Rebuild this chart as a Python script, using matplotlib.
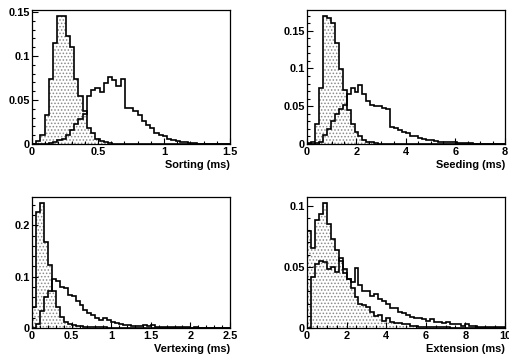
import numpy as np
import matplotlib
matplotlib.use("Agg")
import matplotlib.pyplot as plt
from matplotlib.ticker import MultipleLocator, FuncFormatter

plt.rcParams["font.family"] = ["Liberation Sans", "DejaVu Sans"]
plt.rcParams["hatch.linewidth"] = 0.7

# ---------------- data (normalised histograms, 50 bins each) ----------------
# histogram binning ranges and displayed axis ranges
sorting_bins = (0.0, 1.6)
sorting_axis = (0.0, 1.5)
sorting_shaded = [
    0.000, 0.003, 0.010, 0.033, 0.074, 0.115, 0.145, 0.145, 0.123, 0.110,
    0.074, 0.054, 0.038, 0.018, 0.012, 0.006, 0.003, 0.002, 0.001, 0.0005,
    0, 0, 0, 0, 0, 0, 0, 0, 0, 0,
    0, 0, 0, 0, 0, 0, 0, 0, 0, 0,
    0, 0, 0, 0, 0, 0, 0, 0, 0, 0,
]
sorting_open = [
    0.000, 0.000, 0.000, 0.000, 0.001, 0.002, 0.004, 0.006, 0.010, 0.016,
    0.023, 0.028, 0.034, 0.055, 0.061, 0.064, 0.059, 0.069, 0.076, 0.073,
    0.066, 0.074, 0.041, 0.041, 0.038, 0.033, 0.026, 0.022, 0.018, 0.013,
    0.010, 0.009, 0.006, 0.004, 0.003, 0.002, 0.002, 0.001, 0.001, 0.0005,
    0.0005, 0.0005, 0.0005, 0.0003, 0, 0, 0, 0, 0, 0,
]

seeding_bins = (0.0, 8.0)
seeding_axis = (0.0, 8.0)
seeding_shaded = [
    0.001, 0.003, 0.027, 0.074, 0.169, 0.167, 0.160, 0.134, 0.099, 0.072,
    0.045, 0.027, 0.016, 0.010, 0.005, 0.003, 0.002, 0.001, 0.0005, 0,
    0, 0, 0, 0, 0, 0, 0, 0, 0, 0,
    0, 0, 0, 0, 0, 0, 0, 0, 0, 0,
    0, 0, 0, 0, 0, 0, 0, 0, 0, 0,
]
seeding_open = [
    0.000, 0.000, 0.001, 0.003, 0.012, 0.020, 0.030, 0.040, 0.046, 0.052,
    0.066, 0.074, 0.069, 0.078, 0.066, 0.057, 0.052, 0.050, 0.050, 0.048,
    0.047, 0.022, 0.021, 0.019, 0.016, 0.014, 0.011, 0.010, 0.008, 0.007,
    0.005, 0.005, 0.004, 0.003, 0.003, 0.002, 0.002, 0.002, 0.001, 0.001,
    0.001, 0.001, 0.0005, 0.0005, 0.0003, 0, 0, 0, 0, 0,
]

vertexing_bins = (0.0, 2.5)
vertexing_axis = (0.0, 2.5)
vertexing_shaded = [
    0.040, 0.225, 0.243, 0.168, 0.123, 0.072, 0.040, 0.022, 0.012, 0.008,
    0.005, 0.004, 0.003, 0.002, 0.002, 0.001, 0.001, 0.001, 0.001, 0.0005,
    0.0005, 0, 0, 0, 0, 0, 0, 0, 0, 0,
    0, 0, 0, 0, 0, 0, 0, 0, 0, 0,
    0, 0, 0, 0, 0, 0, 0, 0, 0, 0,
]
vertexing_open = [
    0.000, 0.008, 0.033, 0.060, 0.072, 0.095, 0.092, 0.080, 0.078, 0.064,
    0.062, 0.052, 0.044, 0.036, 0.030, 0.025, 0.019, 0.016, 0.020, 0.016,
    0.012, 0.010, 0.008, 0.006, 0.005, 0.004, 0.004, 0.003, 0.005, 0.003,
    0.005, 0.002, 0.002, 0.001, 0.001, 0.001, 0.002, 0.001, 0.001, 0.001,
    0.0005, 0.001, 0.0005, 0.0005, 0.0005, 0.0005, 0.0003, 0.0003, 0.0003, 0.0003,
]

extension_bins = (0.0, 10.0)
extension_axis = (0.0, 10.0)
extension_shaded = [
    0.079, 0.065, 0.088, 0.093, 0.102, 0.085, 0.073, 0.064, 0.055, 0.048,
    0.040, 0.033, 0.025, 0.020, 0.019, 0.017, 0.013, 0.010, 0.011, 0.006,
    0.008, 0.005, 0.004, 0.004, 0.003, 0.003, 0.002, 0.002, 0.001, 0.001,
    0.001, 0.001, 0.0005, 0.0005, 0.0005, 0.0005, 0, 0, 0, 0,
    0, 0, 0, 0, 0, 0, 0, 0, 0, 0,
]
extension_open = [
    0.000, 0.042, 0.052, 0.055, 0.054, 0.048, 0.050, 0.046, 0.057, 0.045,
    0.040, 0.038, 0.049, 0.035, 0.030, 0.030, 0.026, 0.028, 0.024, 0.022,
    0.020, 0.016, 0.016, 0.013, 0.012, 0.011, 0.009, 0.008, 0.008, 0.007,
    0.006, 0.007, 0.005, 0.005, 0.004, 0.005, 0.003, 0.003, 0.003, 0.002,
    0.003, 0.002, 0.002, 0.001, 0.001, 0.001, 0.0005, 0.0005, 0.0005, 0.0005,
]

xlabels = ["Sorting (ms)", "Seeding (ms)", "Vertexing (ms)", "Extension (ms)"]
# (major, minor) ticks for x and y
x_ticks = [(0.5, 0.1), (2, 0.5), (0.5, 0.1), (2, 0.5)]
y_ticks = [(0.05, 0.01), (0.05, 0.01), (0.1, 0.02), (0.05, 0.01)]

panels = [
    (sorting_bins, sorting_axis, sorting_shaded, sorting_open),
    (seeding_bins, seeding_axis, seeding_shaded, seeding_open),
    (vertexing_bins, vertexing_axis, vertexing_shaded, vertexing_open),
    (extension_bins, extension_axis, extension_shaded, extension_open),
]

# axes rectangles in figure fractions
W, H = 510, 361
rects = [
    (32 / W, 1 - 144 / H, 198 / W, 134 / H),
    (307 / W, 1 - 144 / H, 198 / W, 134 / H),
    (32 / W, 1 - 328 / H, 198 / W, 131 / H),
    (307 / W, 1 - 328 / H, 198 / W, 131 / H),
]

fig = plt.figure(figsize=(5.10, 3.61), dpi=100)
fmt = FuncFormatter(lambda v, p: ("%g" % round(v, 6)))
FS = 7.9

for (brng, arng, shaded, opn), rect, xl, xt, yt in zip(panels, rects, xlabels, x_ticks, y_ticks):
    ax = fig.add_axes(rect)
    shaded = np.asarray(shaded)
    opn = np.asarray(opn)
    edges = np.linspace(brng[0], brng[1], len(shaded) + 1)
    ax.stairs(shaded, edges, fill=True, facecolor="white", edgecolor="#8a8a8a",
              hatch=".....", linewidth=0)
    ax.stairs(shaded, edges, color="black", linewidth=1.2)
    ax.stairs(opn, edges, color="black", linewidth=1.2)
    ax.set_xlim(arng)
    ax.set_ylim(0, 1.05 * shaded.max())
    ax.xaxis.set_major_locator(MultipleLocator(xt[0]))
    ax.xaxis.set_minor_locator(MultipleLocator(xt[1]))
    ax.yaxis.set_major_locator(MultipleLocator(yt[0]))
    ax.yaxis.set_minor_locator(MultipleLocator(yt[1]))
    ax.xaxis.set_major_formatter(fmt)
    ax.yaxis.set_major_formatter(fmt)
    ax.tick_params(which="both", direction="in", top=False, right=False,
                   labelsize=FS, width=0.8)
    ax.tick_params(which="major", length=4)
    ax.tick_params(axis="x", which="major", pad=2.5)
    ax.tick_params(axis="y", which="major", pad=1.5)
    ax.tick_params(which="minor", length=2)
    for lab in ax.get_xticklabels() + ax.get_yticklabels():
        lab.set_fontweight("bold")
    for sp in ax.spines.values():
        sp.set_linewidth(0.9)
    ax.set_xlabel(xl, loc="right", fontsize=FS, fontweight="bold", labelpad=1.5)

fig.savefig("out.png", dpi=100)
